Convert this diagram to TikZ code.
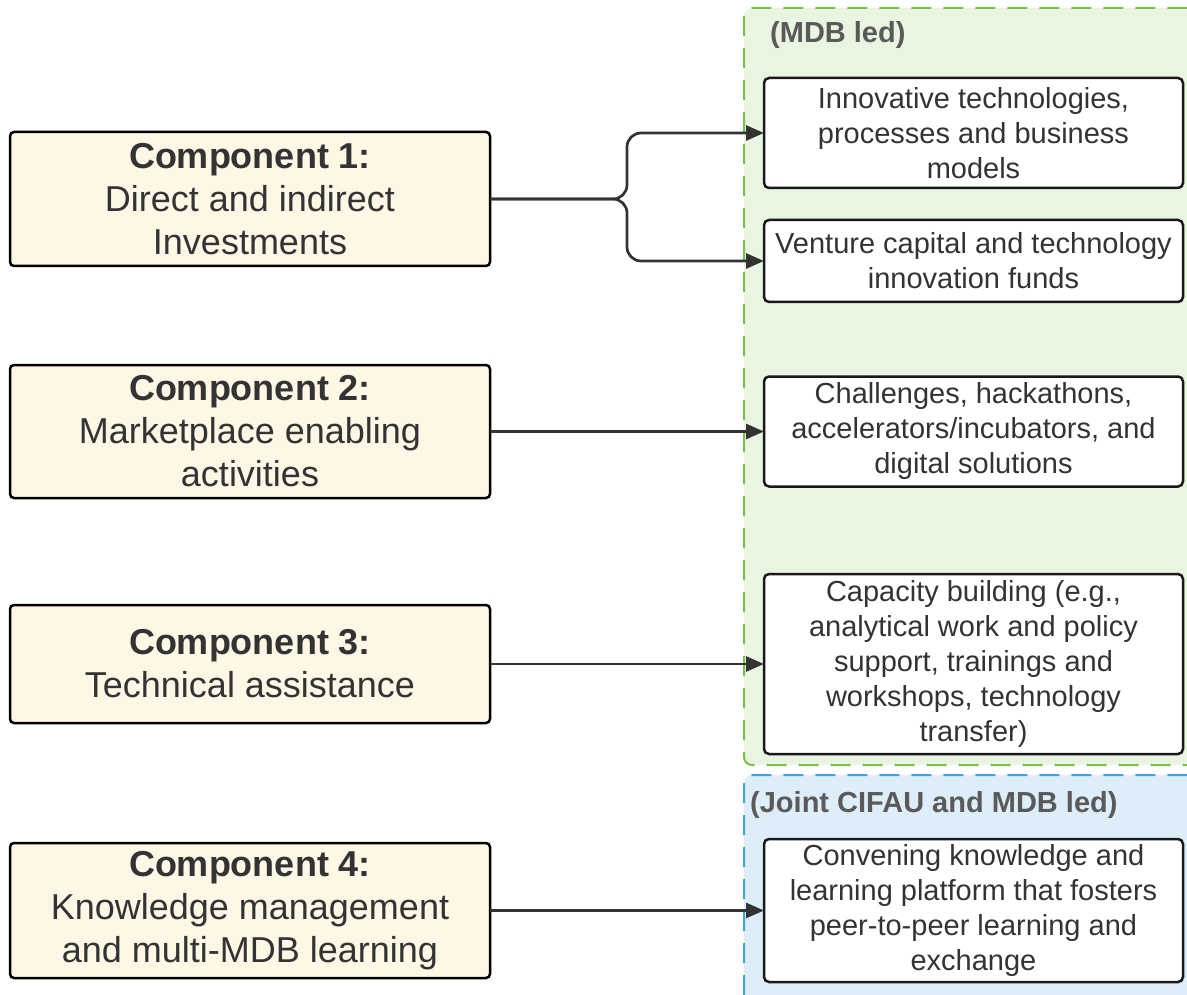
\documentclass[tikz,border=0pt]{standalone}
\usepackage{fontspec}
\setmainfont{Liberation Sans}
\usepackage{xcolor}
\definecolor{colorComponent}{HTML}{FFF7E6}
\definecolor{colorMdbFill}{HTML}{EAF5E1}
\definecolor{colorMdbLine}{HTML}{7CC04B}
\definecolor{colorJointFill}{HTML}{DDEEF8}
\definecolor{colorJointLine}{HTML}{3FA3DF}
\definecolor{colorText}{HTML}{333333}
\definecolor{colorTitle}{HTML}{5A5A5A}
\usepackage{tikz}
\usetikzlibrary{arrows.meta, positioning}
\tikzset{
  component/.style={draw=black, line width=2.5pt, rounded corners=4pt, fill=colorComponent, text=colorText, minimum width=480pt, align=center, inner sep=0pt, outer sep=0pt, font=\fontsize{36}{43}\selectfont},
  activity/.style={draw=black!90, line width=2.5pt, rounded corners=5pt, fill=white, text=colorText, minimum width=419pt, align=center, inner sep=0pt, outer sep=0pt, font=\fontsize{29}{35}\selectfont},
  flow/.style={-{Triangle[length=18pt,width=15pt]}, line width=2.7pt, draw=colorText},
  group/.style={line width=2pt, dash pattern=on 20pt off 12pt, rounded corners=8pt},
  grouptitle/.style={anchor=west, inner sep=0pt, text=colorTitle, font=\fontsize{29}{35}\selectfont\bfseries},
}

\begin{document}
\begin{tikzpicture}[x=1pt, y=-1pt]
\useasboundingbox (0,0) rectangle (1187,995);
\clip (0,0) rectangle (1187,995);

% lead groups
\draw[group, draw=colorMdbLine, fill=colorMdbFill] (744,8) rectangle (1210,765);
\draw[group, draw=colorJointLine, fill=colorJointFill] (744,775) rectangle (1210,1020);
\node[grouptitle] (tMdb) at (770,35) {(MDB led)};
\node[grouptitle] (tJoint) at (750,805) {(Joint CIFAU and MDB led)};

% components
\node[component, minimum height=134pt] (c1) at (250,199) {\textbf{Component 1:}\\Direct and indirect\\Investments};
\node[component, minimum height=133pt] (c2) at (250,431.5) {\textbf{Component 2:}\\Marketplace enabling\\activities};
\node[component, minimum height=118pt] (c3) at (250,664) {\textbf{Component 3:}\\Technical assistance};
\node[component, minimum height=135pt] (c4) at (250,910.5) {\textbf{Component 4:}\\Knowledge management\\and multi-MDB learning};

% activities
\node[activity, minimum height=110pt] (a1) at (973.5,133) {Innovative technologies,\\processes and business\\models};
\node[activity, minimum height=82pt] (a2) at (973.5,261) {Venture capital and technology\\innovation funds};
\node[activity, minimum height=110pt, right=274pt of c2] (a3) {Challenges, hackathons,\\accelerators/incubators, and\\digital solutions};
\node[activity, minimum height=180pt, right=274pt of c3] (a4) {Capacity building (e.g.,\\analytical work and policy\\support, trainings and\\workshops, technology\\transfer)};
\node[activity, minimum height=143pt, right=274pt of c4] (a5) {Convening knowledge and\\learning platform that fosters\\peer-to-peer learning and\\exchange};

% connectors
\coordinate (split) at (627,199);
\draw[flow, rounded corners=14pt] (c1.east) -- (split) |- (a1.west);
\draw[flow, rounded corners=14pt] (c1.east) -- (split) |- (a2.west);
\draw[flow] (c2.east) -- (a3.west);
\draw[flow] (c3.east) -- (a4.west);
\draw[flow] (c4.east) -- (a5.west);
\end{tikzpicture}
\end{document}
